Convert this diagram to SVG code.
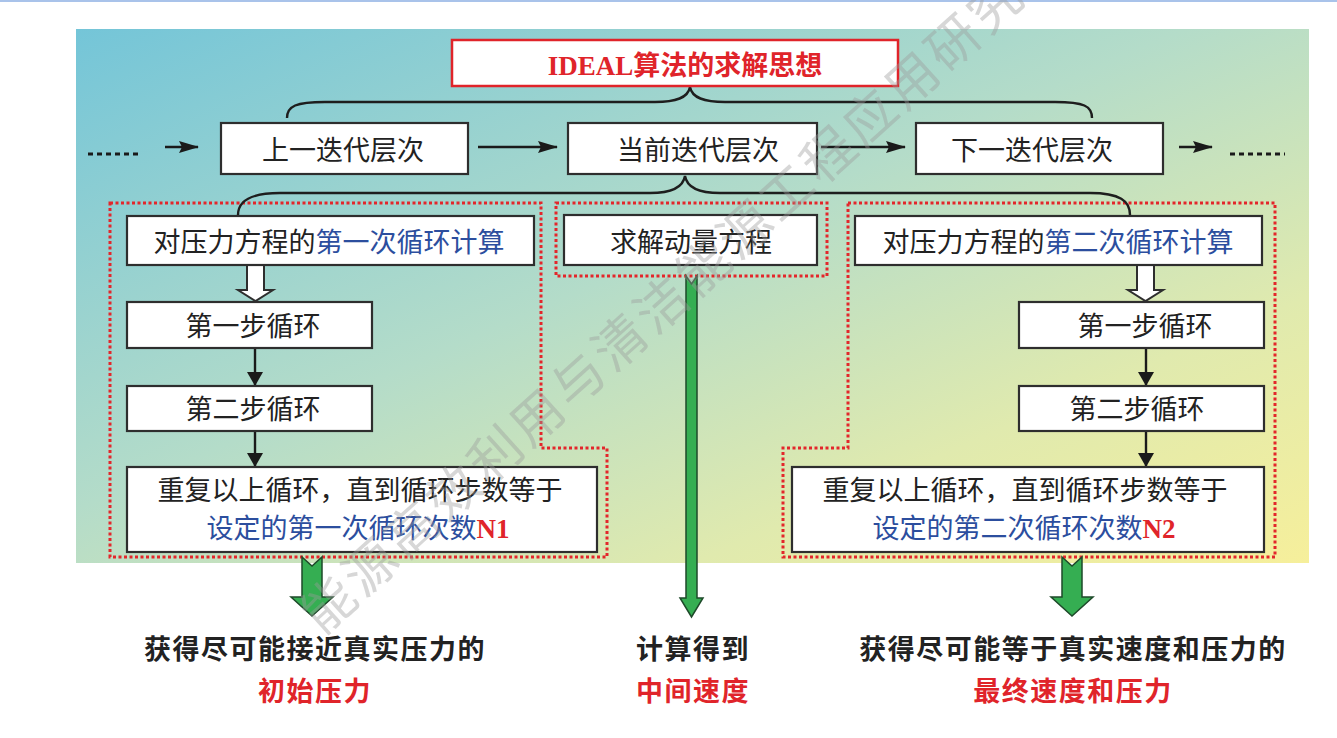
<svg xmlns="http://www.w3.org/2000/svg" width="1337" height="738" viewBox="0 0 1337 738">
  <defs>
    <linearGradient id="bg" x1="0" y1="0" x2="1" y2="1">
      <stop offset="0" stop-color="#74c5d8"/>
      <stop offset="0.45" stop-color="#b4dcc9"/>
      <stop offset="0.75" stop-color="#e0eaae"/>
      <stop offset="1" stop-color="#f6ef9b"/>
    </linearGradient>
    <marker id="ah" markerUnits="userSpaceOnUse" markerWidth="20" markerHeight="12" refX="19" refY="6" orient="auto">
      <path d="M0,0 L20,6 L0,12 L3,6 Z" fill="#1a1a1a"/>
    </marker>
    <marker id="ahv" markerUnits="userSpaceOnUse" markerWidth="14" markerHeight="16" refX="13" refY="8" orient="auto">
      <path d="M0,0 L14,8 L0,16 Z" fill="#1a1a1a"/>
    </marker>
    <style>
      .box { fill: #ffffff; stroke: #2e2e2e; stroke-width: 2.2; }
      .t { font-family: "Noto Sans CJK SC", "Noto Sans", sans-serif; font-size: 27px; fill: #222222; text-anchor: middle; }
      .out { font-family: "Noto Sans CJK SC", "Noto Sans", sans-serif; font-size: 27px; font-weight: bold; fill: #222222; text-anchor: middle; letter-spacing: 1.5px; }
      .blue { fill: #2c4e9e; }
      .red, .out.red { fill: #e0242a; }
      .nb { font-family: "Liberation Serif", serif; font-weight: bold; fill: #e0242a; }
      .dot { fill: none; stroke: #e3262b; stroke-width: 3; stroke-dasharray: 3 2.5; }
      .brace { fill: none; stroke: #1e1e1e; stroke-width: 2.4; }
      .line { stroke: #1a1a1a; stroke-width: 2.4; fill: none; }
      .dots { stroke: #1a1a1a; stroke-width: 3; stroke-dasharray: 5 4; fill: none; }
      .green { fill: #35ae52; stroke: #1e4a2a; stroke-width: 1.5; }
      .hollow { fill: #ffffff; stroke: #2e2e2e; stroke-width: 2; }
    </style>
  </defs>

  <rect x="0" y="0" width="1337" height="738" fill="#ffffff"/>
  <rect x="0" y="0" width="1337" height="2" fill="#a9c3ea"/>
  <rect x="76" y="29" width="1233" height="534" fill="url(#bg)"/>

  <!-- dotted red regions -->
  <g id="regions">
    <path class="dot" d="M110,203 H541 V448 H607 V557 H110 Z"/>
    <rect class="dot" x="556" y="203" width="271" height="73"/>
    <path class="dot" d="M848,203 H1275 V557 H783 V448 H848 Z"/>
  </g>

  <!-- connectors -->
  <g id="connectors">
    <path class="brace" d="M287,118 C287,106 296,102 325,102 L655,102 C676,102 688,98 690,87 C692,98 704,102 725,102 L1055,102 C1084,102 1092,106 1092,118"/>
    <path class="brace" d="M238,215 C238,201 250,193 280,193 L650,193 C671,193 683,188 685,176 C687,188 699,193 720,193 L1090,193 C1120,193 1130,201 1130,215"/>
    <line class="dots" x1="88" y1="154" x2="141" y2="154"/>
    <line class="line" x1="165" y1="147" x2="198" y2="147" marker-end="url(#ah)"/>
    <line class="line" x1="478" y1="147" x2="557" y2="147" marker-end="url(#ah)"/>
    <line class="line" x1="821" y1="147" x2="905" y2="147" marker-end="url(#ah)"/>
    <line class="line" x1="1179" y1="147" x2="1212" y2="147" marker-end="url(#ah)"/>
    <line class="dots" x1="1230" y1="154" x2="1285" y2="154"/>
    <path class="hollow" d="M247,265 H264 V290 H273 L255.5,301 L238,290 H247 Z"/>
    <path class="hollow" d="M1137,265 H1154 V290 H1163 L1145.5,301 L1128,290 H1137 Z"/>
    <line class="line" x1="255" y1="348" x2="255" y2="385" stroke-width="3" marker-end="url(#ahv)"/>
    <line class="line" x1="255" y1="431" x2="255" y2="466" stroke-width="3" marker-end="url(#ahv)"/>
    <line class="line" x1="1146" y1="348" x2="1146" y2="385" stroke-width="3" marker-end="url(#ahv)"/>
    <line class="line" x1="1146" y1="431" x2="1146" y2="466" stroke-width="3" marker-end="url(#ahv)"/>
    <path class="green" d="M302,557 L312,566 L322,557 V597 H333 L312,616 L291,597 H302 Z"/>
    <path class="green" d="M686,276 L691.5,284 L697,276 V598 H703 L691.5,617 L680,598 H686 Z"/>
    <path class="green" d="M1062,557 L1072,566 L1082,557 V597 H1093 L1072,616 L1051,597 H1062 Z"/>
  </g>

  <g id="title">
    <rect x="452" y="40" width="446" height="46" fill="#ffffff" stroke="#e0242a" stroke-width="2.5"/>
    <text x="685" y="75" text-anchor="middle" font-family="Liberation Serif, Noto Sans CJK SC, serif" font-size="27" font-weight="bold" fill="#e0242a">IDEAL<tspan font-family="Noto Sans CJK SC, sans-serif">算法的求解思想</tspan></text>
  </g>

  <g id="prev-level">
    <rect class="box" x="221" y="123" width="247" height="51"/>
    <text class="t" x="343" y="160">上一迭代层次</text>
  </g>
  <g id="current-level">
    <rect class="box" x="568" y="123" width="249" height="51"/>
    <text class="t" x="698" y="160">当前迭代层次</text>
  </g>
  <g id="next-level">
    <rect class="box" x="916" y="123" width="247" height="51"/>
    <text class="t" x="1032" y="160">下一迭代层次</text>
  </g>

  <g id="first-pressure">
    <rect class="box" x="127" y="216" width="407" height="49"/>
    <text class="t" x="329" y="252">对压力方程的<tspan class="blue">第一次循环计算</tspan></text>
  </g>
  <g id="momentum">
    <rect class="box" x="564" y="215" width="253" height="50"/>
    <text class="t" x="691" y="252">求解动量方程</text>
  </g>
  <g id="second-pressure">
    <rect class="box" x="855" y="216" width="407" height="49"/>
    <text class="t" x="1058" y="252">对压力方程的<tspan class="blue">第二次循环计算</tspan></text>
  </g>

  <g id="left-step1">
    <rect class="box" x="127" y="302" width="245" height="46"/>
    <text class="t" x="253" y="336">第一步循环</text>
  </g>
  <g id="left-step2">
    <rect class="box" x="127" y="386" width="245" height="45"/>
    <text class="t" x="253" y="419">第二步循环</text>
  </g>
  <g id="left-repeat">
    <rect class="box" x="127" y="467" width="470" height="85"/>
    <text class="t" x="360" y="500">重复以上循环，直到循环步数等于</text>
    <text class="t" x="358" y="538"><tspan class="blue">设定的第一次循环次数</tspan><tspan class="nb">N1</tspan></text>
  </g>

  <g id="right-step1">
    <rect class="box" x="1019" y="302" width="245" height="46"/>
    <text class="t" x="1145" y="336">第一步循环</text>
  </g>
  <g id="right-step2">
    <rect class="box" x="1019" y="386" width="245" height="45"/>
    <text class="t" x="1137" y="419">第二步循环</text>
  </g>
  <g id="right-repeat">
    <rect class="box" x="792" y="467" width="472" height="85"/>
    <text class="t" x="1025" y="500">重复以上循环，直到循环步数等于</text>
    <text class="t" x="1024" y="538"><tspan class="blue">设定的第二次循环次数</tspan><tspan class="nb">N2</tspan></text>
  </g>

  <g id="result-left">
    <text class="out" x="315" y="659">获得尽可能接近真实压力的</text>
    <text class="out red" x="315" y="701">初始压力</text>
  </g>
  <g id="result-middle">
    <text class="out" x="693" y="659">计算得到</text>
    <text class="out red" x="693" y="701">中间速度</text>
  </g>
  <g id="result-right">
    <text class="out" x="1073" y="659">获得尽可能等于真实速度和压力的</text>
    <text class="out red" x="1073" y="701">最终速度和压力</text>
  </g>

  <text transform="translate(322,636) rotate(-42)" x="0" y="0" font-family="Noto Sans CJK SC, sans-serif" font-size="52" letter-spacing="4" fill="#9a9a9a" fill-opacity="0.4">能源高效利用与清洁能源工程应用研究所</text>
</svg>
